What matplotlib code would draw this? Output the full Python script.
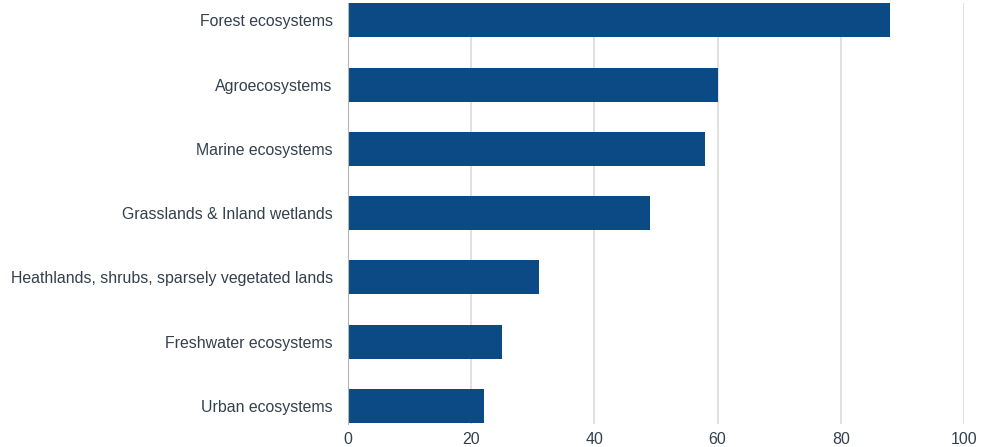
import matplotlib.pyplot as plt

categories = ['Forest ecosystems', 'Agroecosystems', 'Marine ecosystems',
              'Grasslands & Inland wetlands',
              'Heathlands, shrubs, sparsely vegetated lands',
              'Freshwater ecosystems', 'Urban ecosystems']
values = [88, 60, 58, 49, 31, 25, 22]
ticks = [0, 20, 40, 60, 80, 100]

plt.rcParams['font.family'] = ['Liberation Sans', 'DejaVu Sans']

fig = plt.figure(figsize=(9.81, 4.47), dpi=100)
ax = fig.add_axes([348 / 981, 1 - 424 / 447, (964 - 348) / 981, 421 / 447])

ypos = list(range(len(categories)))
ax.barh(ypos, values, height=0.53, color='#0b4a85', zorder=3)
ax.set_ylim(len(categories) - 1 + 0.28, -0.27)
ax.set_xlim(0, 100)
ax.set_yticks(ypos)
ax.set_yticklabels(categories)
ax.set_xticks(ticks)
ax.tick_params(axis='both', length=0, colors='#33404d')
ax.tick_params(axis='y', pad=11, labelsize=11.4)
ax.tick_params(axis='x', pad=6, labelsize=11.5)
ax.grid(axis='x', color='#dcdcdc', linewidth=1.2, zorder=0)
for side in ['top', 'right', 'bottom']:
    ax.spines[side].set_visible(False)
ax.spines['left'].set_color('#b5b5b5')
ax.spines['left'].set_zorder(4)

fig.savefig('out.png', dpi=100)
